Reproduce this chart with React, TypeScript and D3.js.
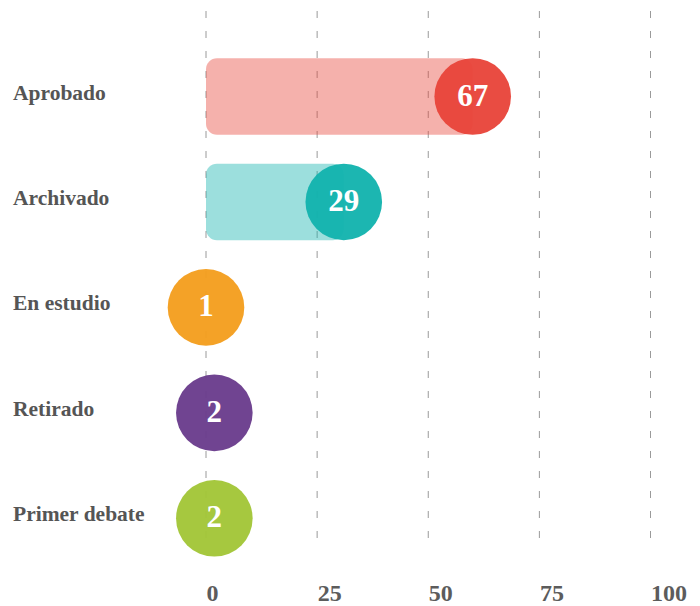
import React from "react";
import * as d3 from "d3";

const categories = ["Aprobado", "Archivado", "En estudio", "Retirado", "Primer debate"];
const values = [67, 29, 1, 2, 2];
const colors = ["#E8453A", "#13B3AE", "#F49E1E", "#6A3C8C", "#A2C637"];
const axisTicks = [0, 25, 50, 75, 100];

const W = 700;
const H = 606;
const R = 38.3;
const FONT = "'Liberation Serif', 'DejaVu Serif', serif";

export default function App() {
  const x = d3.scaleLinear().domain([0, 100]).range([206, 650.5]);
  // marks are laid out on a compressed (power) scale, as in the original infographic
  const xm = d3.scalePow().exponent(0.74).domain([1, 67]).range([x(0), x(60)]);
  const y = d3.scalePoint<string>().domain(categories).range([96.5, 518.3]);

  return (
    <svg
      width={W}
      height={H}
      style={{ position: "absolute", left: 0, top: 0, background: "#fff" }}
    >
      {axisTicks.map((t) => (
        <g key={"g" + t}>
          <line
            x1={x(t)}
            x2={x(t)}
            y1={10}
            y2={548}
            stroke="#9a9a9a"
            strokeWidth={1}
            strokeDasharray="7 13"
            strokeDashoffset={-1}
          />
          <text
            x={x(t) + 0.5}
            y={601}
            fontFamily={FONT}
            fontWeight="bold"
            fontSize={24}
            fill="#5c5c5c"
          >
            {t}
          </text>
        </g>
      ))}
      {categories.map((c, i) => {
        const cy = y(c) as number;
        const cx = xm(values[i]);
        return (
          <g key={c}>
            <text
              x={13}
              y={cy + 3}
              fontFamily={FONT}
              fontWeight="bold"
              fontSize={21.5}
              fill="#555555"
            >
              {c}
            </text>
            {cx - x(0) > R && (
              <rect
                x={x(0)}
                y={cy - R}
                width={cx - x(0)}
                height={2 * R}
                rx={11}
                ry={11}
                fill={colors[i]}
                fillOpacity={0.42}
              />
            )}
            <circle cx={cx} cy={cy} r={R} fill={colors[i]} fillOpacity={0.96} />
            <text
              x={cx}
              y={cy + 9}
              textAnchor="middle"
              fontFamily={FONT}
              fontWeight="bold"
              fontSize={31}
              fill="#ffffff"
            >
              {values[i]}
            </text>
          </g>
        );
      })}
    </svg>
  );
}
